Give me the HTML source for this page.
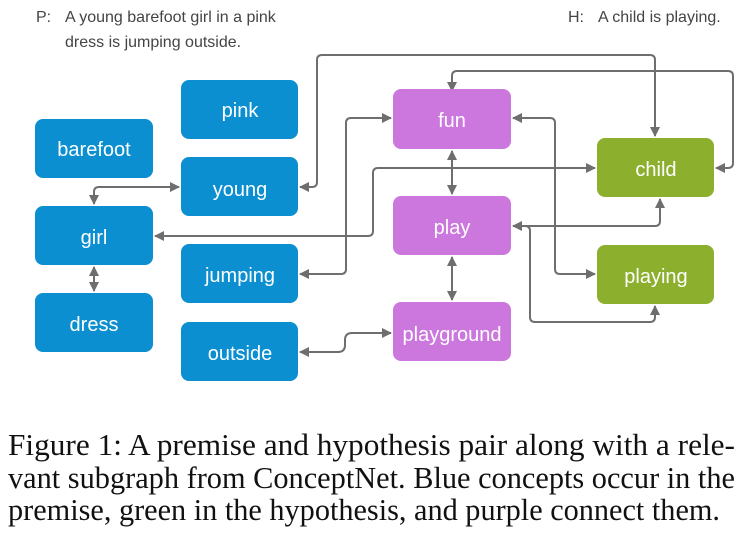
<!DOCTYPE html>
<html><head><style>
html,body{margin:0;padding:0;background:#fff;width:746px;height:534px;overflow:hidden}
svg{display:block}
.h{font-family:"Liberation Sans",sans-serif;font-size:16px;fill:#444}
.b{font-family:"Liberation Sans",sans-serif;font-size:20px;fill:#fff;text-anchor:middle}
.c{font-family:"Liberation Serif",serif;font-size:31px;fill:#111}
</style></head><body>
<svg width="746" height="534" viewBox="0 0 746 534">
<defs>
<marker id="a" viewBox="0 0 10 10" refX="9" refY="5" markerWidth="5" markerHeight="5" orient="auto-start-reverse">
<path d="M0,0 L10,5 L0,10 z" fill="#6e6e6e"/></marker>
</defs>
<text class="h" x="36" y="22">P:</text>
<text class="h" x="65" y="22">A young barefoot girl in a pink</text>
<text class="h" x="65" y="47">dress is jumping outside.</text>
<text class="h" x="568" y="22">H:</text>
<text class="h" x="598" y="22">A child is playing.</text>

<g fill="none" stroke="#6e6e6e" stroke-width="2">
<path d="M300,187 H312 Q317,187 317,182 V60 Q317,55 322,55 H650 Q655,55 655,60 V136" marker-start="url(#a)" marker-end="url(#a)"/>
<path d="M452,91 V76 Q452,71 457,71 H728 Q733,71 733,76 V163 Q733,168 728,168 H716" marker-start="url(#a)" marker-end="url(#a)"/>
<path d="M300,274 H341 Q346,274 346,269 V123 Q346,118 351,118 H391" marker-start="url(#a)" marker-end="url(#a)"/>
<path d="M513,118 H550 Q555,118 555,123 V269 Q555,274 560,274 H595" marker-start="url(#a)" marker-end="url(#a)"/>
<path d="M452,151 V194" marker-start="url(#a)" marker-end="url(#a)"/>
<path d="M155,236 H368 Q373,236 373,231 V173 Q373,168 378,168 H595" marker-start="url(#a)" marker-end="url(#a)"/>
<path d="M513,226 H655 Q660,226 660,221 V199" marker-start="url(#a)" marker-end="url(#a)"/>
<path d="M525,226 Q530,226 530,231 V317 Q530,322 535,322 H650 Q655,322 655,317 V306" marker-end="url(#a)"/>
<path d="M452,257 V300" marker-start="url(#a)" marker-end="url(#a)"/>
<path d="M300,352 H338 Q345,352 345,345 V340 Q345,333 352,333 H391" marker-start="url(#a)" marker-end="url(#a)"/>
<path d="M94,204 V192 Q94,187 99,187 H179" marker-start="url(#a)" marker-end="url(#a)"/>
<path d="M94,267 V291" marker-start="url(#a)" marker-end="url(#a)"/>
</g>

<g fill="#0b8fd1">
<rect x="35" y="119" width="118" height="59" rx="8"/>
<rect x="181" y="80" width="117" height="59" rx="8"/>
<rect x="181" y="157" width="117" height="59" rx="8"/>
<rect x="35" y="206" width="118" height="59" rx="8"/>
<rect x="181" y="244" width="117" height="59" rx="8"/>
<rect x="35" y="293" width="118" height="59" rx="8"/>
<rect x="181" y="322" width="117" height="59" rx="8"/>
</g>
<g fill="#cc77dd">
<rect x="393" y="89" width="118" height="60" rx="8"/>
<rect x="393" y="196" width="118" height="59" rx="8"/>
<rect x="393" y="302" width="118" height="59" rx="8"/>
</g>
<g fill="#8cb02e">
<rect x="597" y="138" width="117" height="59" rx="8"/>
<rect x="597" y="245" width="117" height="59" rx="8"/>
</g>
<text class="b" x="94" y="156">barefoot</text>
<text class="b" x="240" y="117">pink</text>
<text class="b" x="240" y="196">young</text>
<text class="b" x="94" y="244">girl</text>
<text class="b" x="240" y="282">jumping</text>
<text class="b" x="94" y="331">dress</text>
<text class="b" x="240" y="360">outside</text>
<text class="b" x="452" y="127">fun</text>
<text class="b" x="452" y="234">play</text>
<text class="b" x="452" y="341">playground</text>
<text class="b" x="656" y="176">child</text>
<text class="b" x="656" y="283">playing</text>

<text class="c" x="8" y="455" textLength="727" lengthAdjust="spacingAndGlyphs">Figure 1: A premise and hypothesis pair along with a rele-</text>
<text class="c" x="8" y="488" textLength="727" lengthAdjust="spacingAndGlyphs">vant subgraph from ConceptNet. Blue concepts occur in the</text>
<text class="c" x="8" y="520" textLength="712" lengthAdjust="spacingAndGlyphs">premise, green in the hypothesis, and purple connect them.</text>
</svg>
</body></html>
